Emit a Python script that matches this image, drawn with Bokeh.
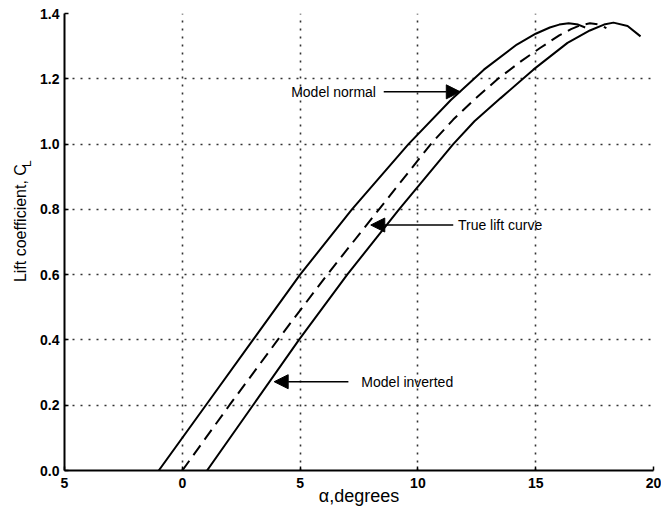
import math

from bokeh.plotting import figure
from bokeh.layouts import row
from bokeh.models import Range1d, Label, Arrow, NormalHead, FixedTicker
from bokeh.embed import file_html
from bokeh.resources import INLINE

# Lift curves: angle of attack (deg) vs lift coefficient
normal_alpha = [-1.0, 1.0, 3.0, 5.0, 7.2, 9.6, 11.4, 12.8, 14.2, 15.0, 15.6, 16.0, 16.4, 16.8, 17.1]
normal_cl = [0.0, 0.2, 0.4, 0.6, 0.8, 1.0, 1.135, 1.228, 1.305, 1.338, 1.357, 1.366, 1.37, 1.366, 1.357]

true_alpha = [0.0, 2.0, 4.05, 6.15, 8.35, 10.55, 11.5, 12.4, 13.4, 14.4, 15.2, 16.0, 16.5, 16.9, 17.3, 17.7, 18.0]
true_cl = [0.0, 0.2, 0.4, 0.6, 0.8, 1.0, 1.075, 1.137, 1.2, 1.255, 1.295, 1.333, 1.352, 1.364, 1.37, 1.366, 1.355]

inverted_alpha = [1.05, 3.0, 4.95, 7.0, 9.2, 11.5, 12.4, 13.5, 14.9, 16.35, 17.3, 17.9, 18.3, 18.9, 19.45]
inverted_cl = [0.0, 0.2, 0.4, 0.6, 0.8, 1.0, 1.07, 1.14, 1.228, 1.31, 1.348, 1.366, 1.372, 1.362, 1.33]

x_ticks = [-5, 0, 5, 10, 15, 20]
x_tick_labels = {-5: "5"}
y_ticks = [0.0, 0.2, 0.4, 0.6, 0.8, 1.0, 1.2, 1.4]

FONT = "Liberation Sans"

p = figure(width=625, height=508, x_range=Range1d(-5, 20), y_range=Range1d(0, 1.4),
           output_backend="svg", toolbar_location=None,
           min_border_left=28, min_border_right=8, min_border_top=13, min_border_bottom=37)
p.outline_line_color = None
p.background_fill_color = "white"

# axes
p.xaxis.ticker = FixedTicker(ticks=x_ticks)
p.xaxis.major_label_overrides = x_tick_labels
p.yaxis.ticker = FixedTicker(ticks=y_ticks)
p.yaxis.major_label_overrides = {v: f"{v:.1f}" for v in y_ticks}
for ax in (p.xaxis[0], p.yaxis[0]):
    ax.axis_line_width = 2
    ax.axis_line_color = "black"
    ax.major_tick_in = 4
    ax.major_tick_out = 0
    ax.major_tick_line_width = 1.5
    ax.minor_tick_line_color = None
    ax.major_label_text_font = FONT
    ax.major_label_text_font_size = "14px"
    ax.major_label_text_font_style = "bold"
    ax.major_label_text_color = "black"
p.xaxis.major_label_standoff = 7
p.yaxis.major_label_standoff = 5

p.xaxis.axis_label = "\u03b1,degrees"
p.xaxis.axis_label_text_font = FONT
p.xaxis.axis_label_text_font_size = "18px"
p.xaxis.axis_label_text_font_style = "normal"
p.xaxis.axis_label_text_color = "black"
p.xaxis.axis_label_standoff = -5

# dotted grid
for g in (p.xgrid[0], p.ygrid[0]):
    g.grid_line_color = "#333333"
    g.grid_line_width = 1.6
    g.grid_line_dash = "2 6"
p.xgrid.ticker = FixedTicker(ticks=x_ticks)
p.ygrid.ticker = FixedTicker(ticks=y_ticks)

# curves
p.line(normal_alpha, normal_cl, line_color="black", line_width=2)
p.line(true_alpha, true_cl, line_color="black", line_width=2, line_dash="12 7")
p.line(inverted_alpha, inverted_cl, line_color="black", line_width=2)

# annotations with arrows
notes = [
    ("Model normal", 8.22, 1.16, "right", 8.55, 11.8),
    ("True lift curve", 11.7, 0.752, "left", 11.5, 8.0),
    ("Model inverted", 7.6, 0.272, "left", 7.05, 3.9),
]
for text, tx, ty, align, ax0, ax1 in notes:
    p.add_layout(Label(x=tx, y=ty, text=text, text_align=align, text_baseline="middle",
                       text_font=FONT, text_font_size="14px", text_color="black"))
    p.add_layout(Arrow(end=NormalHead(size=14, fill_color="black", line_color="black"),
                       x_start=ax0, y_start=ty, x_end=ax1, y_end=ty,
                       line_color="black", line_width=1.5))

# narrow strip holding the vertical axis title, in pixel coordinates (y up from bottom)
side = figure(width=36, height=508, x_range=Range1d(0, 36), y_range=Range1d(0, 508),
              title=None, x_axis_type=None, y_axis_type=None,
              output_backend="svg", toolbar_location=None,
              min_border_left=0, min_border_right=0, min_border_top=0, min_border_bottom=0)
side.grid.visible = False
side.outline_line_color = None
side.add_layout(Label(x=20, y=275, angle=math.pi / 2, text="Lift coefficient, C",
                      text_align="center", text_baseline="middle",
                      text_font=FONT, text_font_size="16px", text_color="black"))
side.add_layout(Label(x=26, y=341, angle=math.pi / 2, text="L",
                      text_align="center", text_baseline="middle",
                      text_font=FONT, text_font_size="12px", text_color="black"))

layout = row(side, p, spacing=0)
open("out.html", "w").write(file_html(layout, INLINE))
